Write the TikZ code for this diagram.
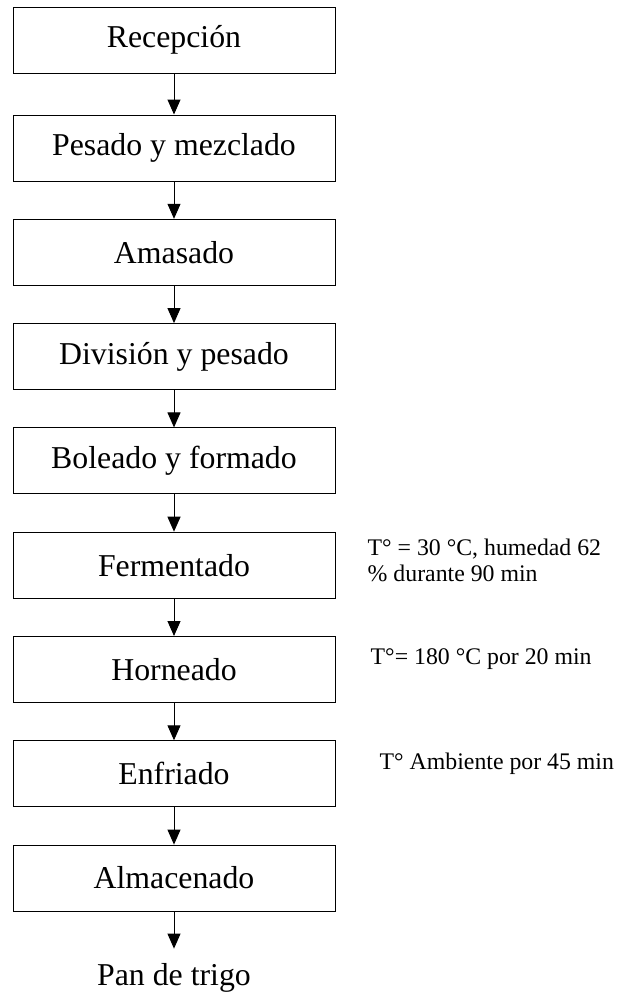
\documentclass[tikz,border=0pt]{standalone}
\usepackage{fontspec}
\setmainfont{Liberation Serif}
\usepackage{tikz}
\usetikzlibrary{arrows.meta, positioning}

\begin{document}
\begin{tikzpicture}[
  etapa/.style = {rectangle, draw=black, line width=1pt, minimum width=322pt, minimum height=66pt, inner sep=0pt, text centered, font=\fontsize{31.8}{36}\selectfont},
  nota/.style = {align=left, inner sep=0pt, anchor=west, font=\fontsize{23.8}{26.5}\selectfont},
  arrow/.style = {-{Triangle[width=13pt, length=15pt]}, line width=1pt},
  node distance=37.3pt
]
\useasboundingbox (0,0) rectangle (617pt,-993pt);

\node[etapa] (recep) at (174pt,-40pt) {Recepción};
\node[etapa, below=41pt of recep] (pesado) {Pesado y mezclado};
\node[etapa, below=of pesado] (amasado) {Amasado};
\node[etapa, below=of amasado] (division) {División y pesado};
\node[etapa, below=of division] (boleado) {Boleado y formado};
\node[etapa, below=of boleado] (ferment) {Fermentado};
\node[etapa, below=of ferment] (horneado) {Horneado};
\node[etapa, below=of horneado] (enfriado) {Enfriado};
\node[etapa, below=of enfriado] (almacen) {Almacenado};
\node[below=37pt of almacen, inner xsep=0pt, inner ysep=15pt, font=\fontsize{31.8}{36}\selectfont] (pan) {Pan de trigo};

\node[nota, right=32pt of ferment, yshift=5pt] (notaferm) {T° = 30 °C, humedad 62\\\% durante 90 min};
\node[nota, right=35pt of horneado, yshift=10pt] (notahorno) {T°= 180 °C por 20 min};
\node[nota, right=44pt of enfriado, yshift=10pt] (notaenfr) {T° Ambiente por 45 min};

\draw[arrow] (recep) -- (pesado);
\draw[arrow] (pesado) -- (amasado);
\draw[arrow] (amasado) -- (division);
\draw[arrow] (division) -- (boleado);
\draw[arrow] (boleado) -- (ferment);
\draw[arrow] (ferment) -- (horneado);
\draw[arrow] (horneado) -- (enfriado);
\draw[arrow] (enfriado) -- (almacen);
\draw[arrow] (almacen) -- (pan);

\end{tikzpicture}
\end{document}
